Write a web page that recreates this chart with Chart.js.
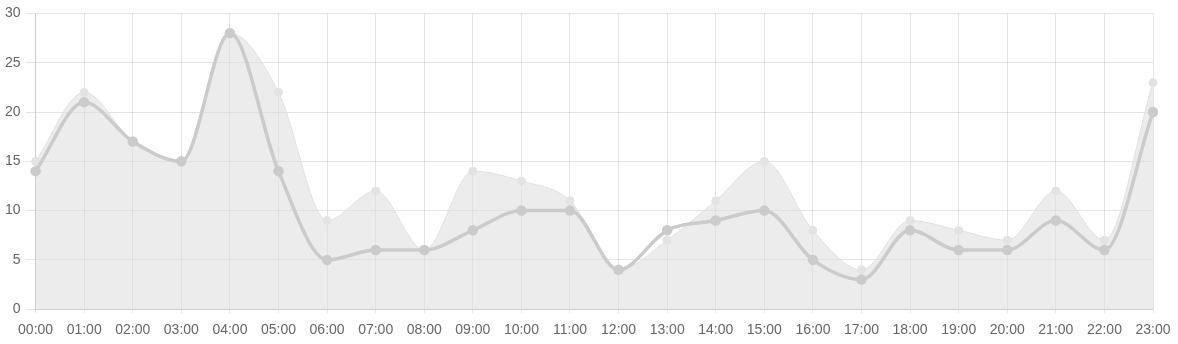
<!DOCTYPE html>
<html>
<head>
<meta charset="utf-8">
<script src="https://cdn.jsdelivr.net/npm/chart.js@4"></script>
<style>
  body { margin: 0; background: #fff; }
</style>
</head>
<body>
<canvas id="myChart" width="1178" height="344"></canvas>
<script>
const hours = [
  '00:00', '01:00', '02:00', '03:00', '04:00', '05:00', '06:00', '07:00',
  '08:00', '09:00', '10:00', '11:00', '12:00', '13:00', '14:00', '15:00',
  '16:00', '17:00', '18:00', '19:00', '20:00', '21:00', '22:00', '23:00',
]
const darkValues = [14, 21, 17, 15, 28, 14, 5, 6, 6, 8, 10, 10, 4, 8, 9, 10, 5, 3, 8, 6, 6, 9, 6, 20]
const lightValues = [15, 22, 17, 15, 28, 22, 9, 12, 6, 14, 13, 11, 4, 7, 11, 15, 8, 4, 9, 8, 7, 12, 7, 23]
const yTicks = [0, 5, 10, 15, 20, 25, 30]

const canvas = document.getElementById('myChart')

const data = {
  labels: hours,
  datasets: [
    {
      label: 'dark',
      data: darkValues,
      borderColor: '#cbcbcb',
      borderWidth: 3.5,
      pointBackgroundColor: '#cbcbcb',
      pointBorderColor: '#cbcbcb',
      pointRadius: 3.5,
      cubicInterpolationMode: 'monotone',
      fill: false,
    },
    {
      label: 'light',
      data: lightValues,
      borderColor: '#e0e0e0',
      borderWidth: 1,
      backgroundColor: 'rgba(220,220,220,0.55)',
      pointBackgroundColor: '#e3e3e3',
      pointBorderColor: '#e3e3e3',
      pointRadius: 4,
      cubicInterpolationMode: 'monotone',
      fill: 'origin',
    },
  ],
}

const config = {
  type: 'line',
  data: data,
  options: {
    responsive: false,
    animation: false,
    layout: {
      // the reference pushes the x labels close to the bottom edge
      padding: { left: 0, right: 0, top: 13, bottom: -4 },
    },
    plugins: {
      legend: { display: false },
      tooltip: { enabled: false },
    },
    scales: {
      x: {
        grid: { color: 'rgba(0,0,0,0.1)', tickLength: 4 },
        border: { color: 'rgba(0,0,0,0.1)' },
        afterFit: (scale) => {
          scale.paddingRight = 25
        },
        ticks: {
          color: '#666',
          font: { family: 'Liberation Sans, Arial', size: 14 },
          maxRotation: 0,
          autoSkip: false,
          padding: 9,
        },
      },
      y: {
        min: yTicks[0],
        max: yTicks[yTicks.length - 1],
        grid: { color: 'rgba(0,0,0,0.1)', tickLength: 10 },
        border: { color: 'rgba(0,0,0,0.1)' },
        afterBuildTicks: (axis) => {
          axis.ticks = yTicks.map((v) => ({ value: v }))
        },
        ticks: {
          color: '#666',
          font: { family: 'Liberation Sans, Arial', size: 14 },
          padding: 5,
        },
      },
    },
  },
}

const myChart = new Chart(canvas, config)
</script>
</body>
</html>
